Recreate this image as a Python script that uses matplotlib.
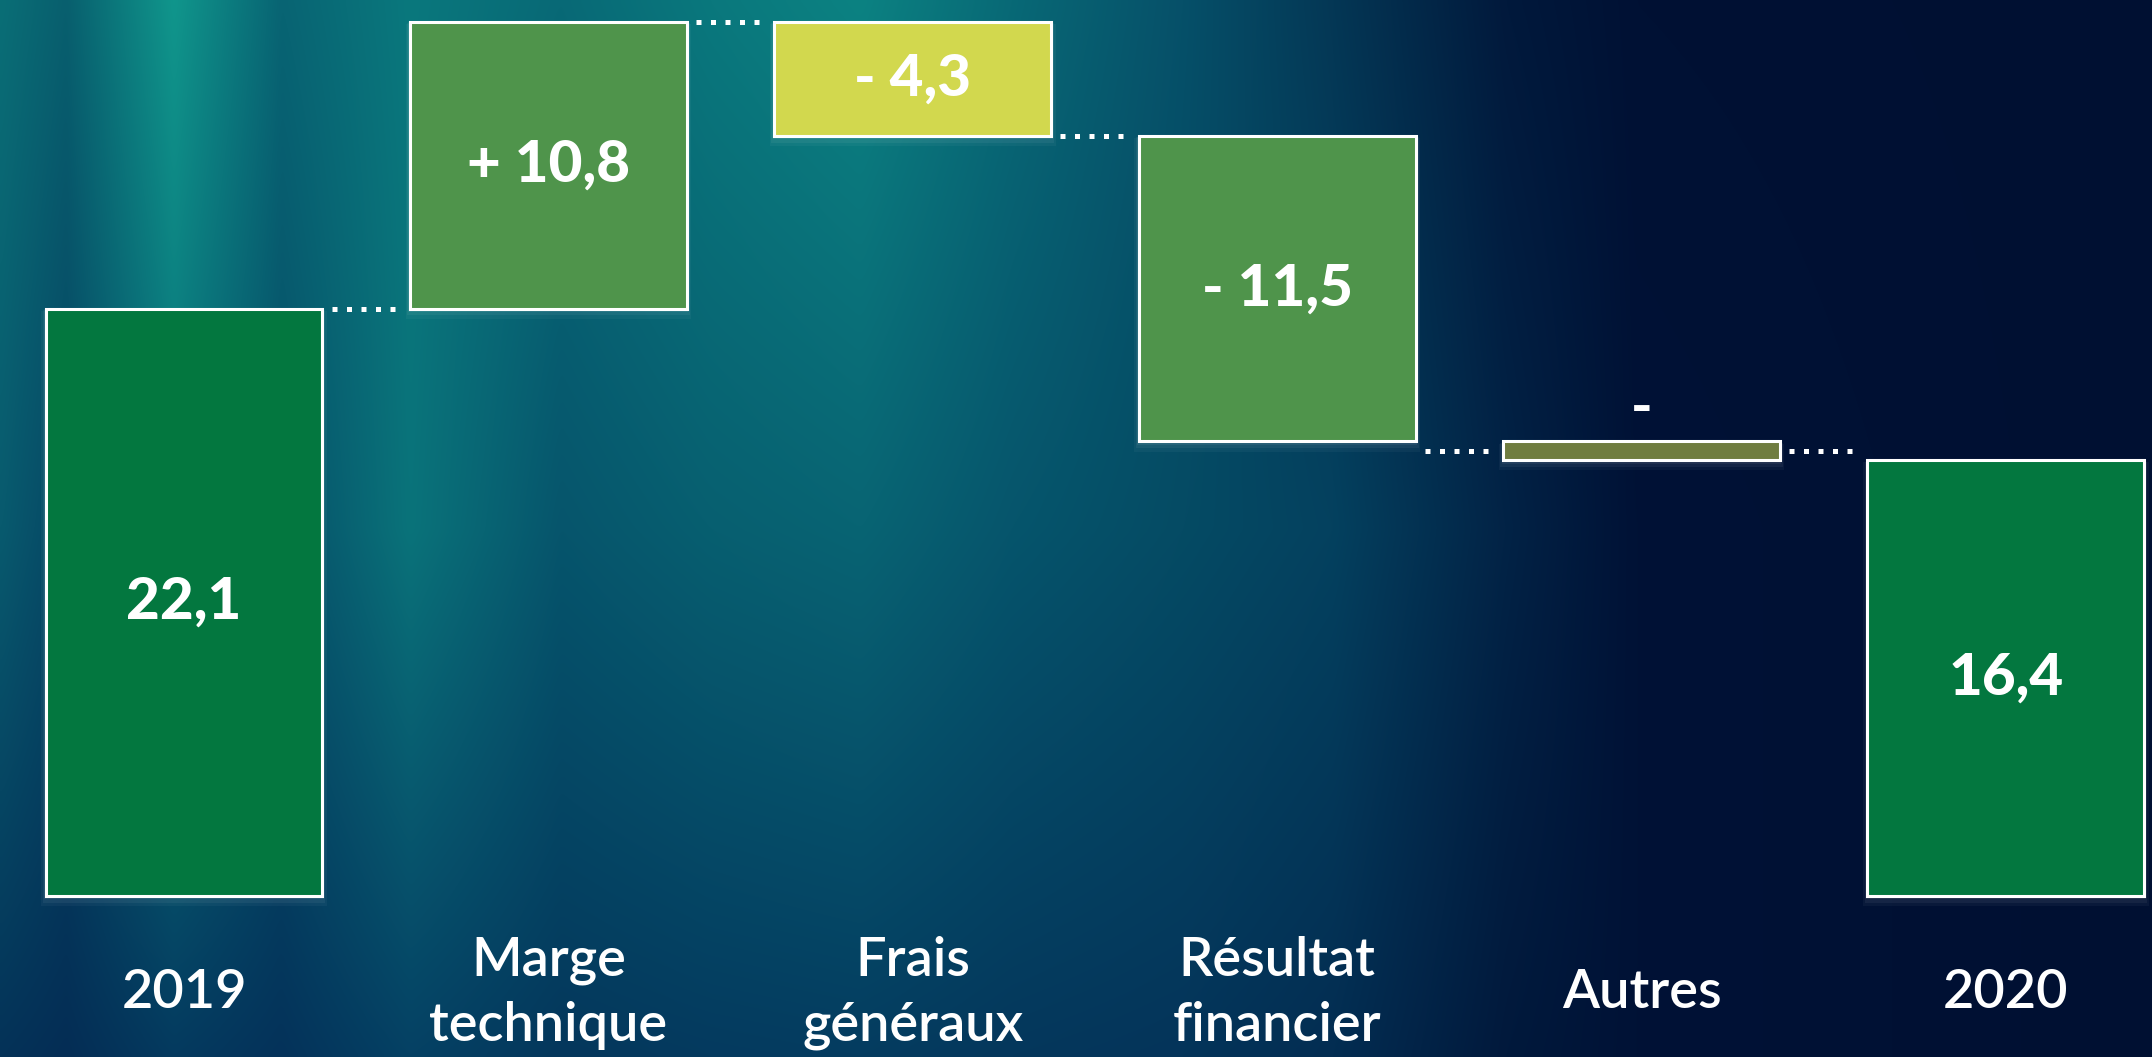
import numpy as np
import matplotlib
matplotlib.use("Agg")
import matplotlib.pyplot as plt
from matplotlib.patches import Rectangle

# --- data ---
categories = ["2019", "Marge\ntechnique", "Frais\ngénéraux", "Résultat\nfinancier", "Autres", "2020"]
values = [22.1, 10.8, -4.3, -11.5, -0.7, 16.4]
value_labels = ["22,1", "+ 10,8", "- 4,3", "- 11,5", "-", "16,4"]
is_total = [True, False, False, False, False, True]
bar_colors = ["#03773f", "#4f944b", "#d2d84e", "#4f944b", "#707d40", "#03773f"]

plt.rcParams["font.family"] = ["Lato", "DejaVu Sans"]

W, H = 2152, 1057
fig = plt.figure(figsize=(W / 100, H / 100), dpi=100)
ax = fig.add_axes([0, 0, 1, 1])
xmin, xmax = -0.505, 5.401
ymin, ymax = -6.06, 33.71

# --- background: teal streaks on the left fading into navy on the right ---
xs = np.linspace(0, 1, 500)
ys = np.linspace(0, 1, 300)
kx = [0.00, 0.03, 0.08, 0.13, 0.19, 0.26, 0.33, 0.40, 0.47, 0.55, 0.62, 0.70, 0.76, 1.00]
top = np.array([[10, 110, 118], [8, 95, 110], [16, 150, 140], [8, 100, 115], [10, 120, 125],
                [8, 105, 118], [10, 120, 125], [12, 130, 130], [8, 105, 118], [6, 80, 105],
                [4, 55, 85], [1, 25, 60], [0, 17, 52], [1, 16, 50]])
mid = np.array([[8, 90, 110], [6, 70, 100], [10, 115, 122], [6, 80, 105], [10, 115, 122],
                [6, 85, 108], [7, 95, 112], [8, 100, 115], [6, 85, 108], [5, 75, 100],
                [4, 65, 95], [2, 35, 70], [0, 18, 54], [0, 16, 50]])
bot = np.array([[4, 50, 88], [4, 45, 85], [4, 58, 95], [4, 50, 90], [5, 65, 100],
                [4, 55, 92], [4, 58, 95], [4, 60, 96], [4, 55, 92], [4, 52, 90],
                [3, 45, 82], [1, 25, 60], [0, 18, 54], [0, 16, 50]])
rows = [np.stack([np.interp(xs, kx, r[:, c]) for c in range(3)], axis=-1) for r in (top, mid, bot)]
ky = [0.0, 0.5, 1.0]
bg = np.empty((len(ys), len(xs), 3))
for c in range(3):
    stack = np.stack([r[:, c] for r in rows])  # (3, nx)
    for j in range(len(xs)):
        bg[:, j, c] = np.interp(ys, ky, stack[:, j])
bg /= 255.0
ax.imshow(bg, extent=[xmin, xmax, ymin, ymax], aspect="auto", zorder=0,
          interpolation="bicubic")

# --- waterfall bars ---
width = 0.76
running = 0.0
bottoms, heights, levels = [], [], []
for v, tot in zip(values, is_total):
    if tot:
        b, h = 0.0, v
        running = v
    else:
        b = running if v > 0 else running + v
        h = abs(v)
        running += v
    bottoms.append(b)
    heights.append(h)
    levels.append(running)

for i, (b, h, c) in enumerate(zip(bottoms, heights, bar_colors)):
    x0 = i - width / 2
    # soft glow under each box
    for k, a in enumerate([0.06, 0.05, 0.04]):
        ax.add_patch(Rectangle((x0 - 0.004 * (k + 1), b - 0.13 * (k + 1)),
                               width + 0.008 * (k + 1), h + 0.1 * (k + 1),
                               facecolor="white", edgecolor="none", alpha=a, zorder=1))
    ax.add_patch(Rectangle((x0, b), width, h, facecolor=c, edgecolor="white",
                           linewidth=2.2, zorder=2))

# dotted connectors (5 dots each)
for i in range(len(values) - 1):
    lvl = levels[i]
    for j in (i, i + 1):
        if not is_total[j] and abs(values[j]) < 1:
            lvl = bottoms[j] + heights[j] / 2
    ax.plot([i + width / 2 + 0.025, i + 1 - width / 2 - 0.025], [lvl, lvl],
            color="white", lw=3.6, linestyle=(0, (1, 1.9)), dash_capstyle="butt",
            zorder=2)

# value labels
for i, (b, h, lab) in enumerate(zip(bottoms, heights, value_labels)):
    y = b + h + 1.25 if h < 1 else b + h / 2
    ax.text(i, y, lab, ha="center", va="center", color="white",
            fontsize=42, fontweight=900, zorder=3)

# category labels
for i, cat in enumerate(categories):
    ax.text(i, -3.65, cat, ha="center", va="center", color="white",
            fontsize=39, fontweight="semibold", linespacing=1.38, zorder=3)

ax.set_xlim(xmin, xmax)
ax.set_ylim(ymin, ymax)
ax.axis("off")
fig.savefig("out.png", dpi=100)
